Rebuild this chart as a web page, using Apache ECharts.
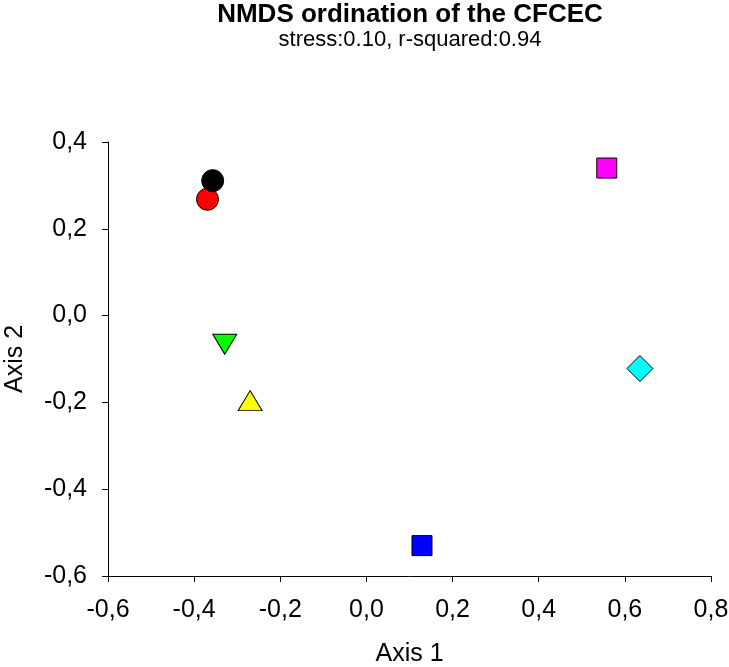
<!DOCTYPE html>
<html>
<head>
<meta charset="utf-8">
<script src="https://cdn.jsdelivr.net/npm/echarts@6/dist/echarts.min.js"></script>
<style>html,body{margin:0;padding:0;background:#fff}#c{width:729px;height:667px}</style>
</head>
<body>
<div id="c"></div>
<script>
var sampleNames = ['S1', 'S2', 'S3', 'S4', 'S5', 'S6', 'S7'];
var axis1 = [-0.357, -0.369, -0.329, -0.270, 0.129, 0.558, 0.635];
var axis2 = [0.311, 0.268, -0.066, -0.196, -0.530, 0.340, -0.122];
var xTicks = [-0.6, -0.4, -0.2, 0.0, 0.2, 0.4, 0.6, 0.8];
var yTicks = [-0.6, -0.4, -0.2, 0.0, 0.2, 0.4];
var titleText = 'NMDS ordination of the CFCEC';
var subtitleText = 'stress:0.10, r-squared:0.94';

var markerStyles = [
  {symbol: 'circle', size: 22, rotate: 0, color: '#000000'},
  {symbol: 'circle', size: 22, rotate: 0, color: '#ff0000'},
  {symbol: 'triangle', size: [24, 20], rotate: 180, color: '#00ff00'},
  {symbol: 'triangle', size: [24, 20], rotate: 0, color: '#ffff00'},
  {symbol: 'rect', size: 20, rotate: 0, color: '#0000ff'},
  {symbol: 'rect', size: 20, rotate: 0, color: '#ff00ff'},
  {symbol: 'diamond', size: 26, rotate: 0, color: '#00ffff'}
];

function fmt(v) { return v.toFixed(1).replace('.', ','); }

var series = sampleNames.map(function (n, i) {
  var st = markerStyles[i];
  return {
    name: n,
    type: 'scatter',
    data: [[axis1[i], axis2[i]]],
    symbol: st.symbol,
    symbolSize: st.size,
    symbolRotate: st.rotate,
    itemStyle: {color: st.color, borderColor: '#000', borderWidth: 1, opacity: 1},
    z: 10 - i
  };
});

var FONT = 'Liberation Sans';
var chart = echarts.init(document.getElementById('c'), null, {renderer: 'canvas'});
chart.setOption({
  animation: false,
  backgroundColor: '#fff',
  title: [{
    text: titleText,
    left: 410, textAlign: 'center', top: 2, padding: 0,
    textStyle: {fontFamily: FONT, fontWeight: 'bold', fontSize: 26, color: '#000'}
  }, {
    text: subtitleText,
    left: 410, textAlign: 'center', top: 29, padding: 0,
    textStyle: {fontFamily: FONT, fontWeight: 'normal', fontSize: 22, color: '#000'}
  }],
  grid: {left: 108, right: 18, top: 142, bottom: 91, containLabel: false, outerBoundsMode: 'none'},
  xAxis: {
    type: 'value',
    min: xTicks[0], max: xTicks[xTicks.length - 1], interval: 0.2,
    name: 'Axis 1', nameLocation: 'middle', nameGap: 66,
    nameTextStyle: {fontFamily: FONT, fontSize: 25, color: '#000'},
    axisLine: {show: true, onZero: false, lineStyle: {color: '#000', width: 1}},
    axisTick: {show: true, inside: false, length: 6, lineStyle: {color: '#000'}},
    axisLabel: {fontFamily: FONT, fontSize: 25, color: '#000', margin: 22, formatter: fmt},
    splitLine: {show: false}
  },
  yAxis: {
    type: 'value',
    min: yTicks[0], max: yTicks[yTicks.length - 1], interval: 0.2,
    name: 'Axis 2', nameLocation: 'middle', nameGap: 80, nameRotate: 90,
    nameTextStyle: {fontFamily: FONT, fontSize: 25, color: '#000'},
    axisLine: {show: true, onZero: false, lineStyle: {color: '#000', width: 1}},
    axisTick: {show: true, inside: false, length: 6, lineStyle: {color: '#000'}},
    axisLabel: {fontFamily: FONT, fontSize: 25, color: '#000', margin: 21, formatter: fmt},
    splitLine: {show: false}
  },
  series: series
});
</script>
</body>
</html>
